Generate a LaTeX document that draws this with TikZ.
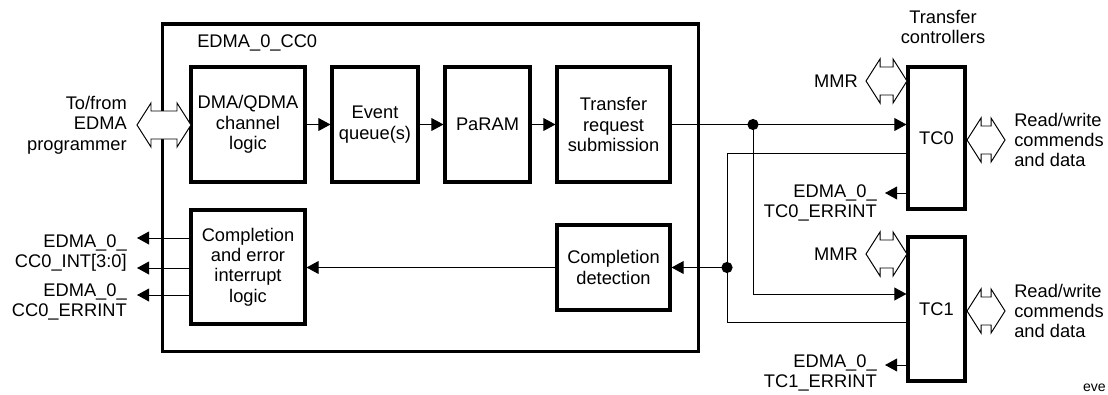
\documentclass[tikz,border=0pt]{standalone}
\usepackage{fontspec}
\setsansfont{Liberation Sans}
\usetikzlibrary{arrows.meta}

% hollow two-headed arrow: left tip x, right tip x, y
\newcommand{\fatarrow}[3]{%
  \draw[fill=white, line width=0.7pt, line join=miter]
    (#1,#3) -- (#1+14,#3-22) -- (#1+14,#3-14) -- (#2-14,#3-14) -- (#2-14,#3-22)
    -- (#2,#3) -- (#2-14,#3+22) -- (#2-14,#3+14) -- (#1+14,#3+14) -- (#1+14,#3+22) -- cycle;}

\begin{document}
\begin{tikzpicture}[x=0.025cm, y=-0.025cm, font=\sffamily\fontsize{13}{14.5}\selectfont,
  blk/.style={draw, line width=2.2pt, align=center, inner sep=0pt},
  lbl/.style={inner sep=0pt},
  conn/.style={line width=0.7pt},
  tip/.style={-{Triangle[length=0.3cm, width=0.32cm]}}]
  % frame of the picture
  \useasboundingbox (0,0) rectangle (1108,394);

  % EDMA_0_CC0 channel controller
  \node[blk, minimum width=13.375cm, minimum height=8.175cm] (cc) at (430.5,187.5) {};
  \node[lbl, anchor=west] (cclbl) at (197,43) {EDMA\_0\_CC0};

  \node[blk, minimum width=2.85cm, minimum height=2.875cm] (dma) at (248,124.5) {DMA/QDMA\\channel\\logic};
  \node[blk, minimum width=2.15cm, minimum height=2.875cm] (evq) at (375,124.5) {Event\\queue(s)};
  \node[blk, minimum width=2.125cm, minimum height=2.875cm] (param) at (487.5,124.5) {PaRAM};
  \node[blk, minimum width=2.825cm, minimum height=2.875cm] (trs) at (613.5,124.5) {Transfer\\request\\submission};
  \node[blk, minimum width=2.85cm, minimum height=2.85cm] (cel) at (248,267) {Completion\\and error\\interrupt\\logic};
  \node[blk, minimum width=2.825cm, minimum height=2.125cm] (cdet) at (613.5,267.5) {Completion\\detection};

  \draw[conn,tip] (dma) -- (evq);
  \draw[conn,tip] (evq) -- (param);
  \draw[conn,tip] (param) -- (trs);
  \draw[conn,tip] (cdet.west) -- (cdet.west -| cel.east);

  % programmer port
  \fatarrow{137}{191}{125}
  \node[lbl, anchor=east, align=right] (prog) at (127,125) {To/from\\EDMA\\programmer};

  % interrupt outputs
  \coordinate (o1) at (137,238);
  \coordinate (o2) at (137,268);
  \coordinate (o3) at (137,295);
  \foreach \o in {o1,o2,o3} \draw[conn,tip] (cel.west |- \o) -- (\o);
  \node[lbl, anchor=east, align=right] (intlbl) at (127,253) {EDMA\_0\_\\CC0\_INT[3:0]};
  \node[lbl, anchor=east, align=right] (errlbl) at (127,302) {EDMA\_0\_\\CC0\_ERRINT};

  % transfer controllers
  \node[lbl, align=center] (tclbl) at (943,27) {Transfer\\controllers};
  \node[blk, minimum width=1.425cm, minimum height=3.55cm] (tc0) at (936.5,138) {TC0};
  \node[blk, minimum width=1.425cm, minimum height=3.6cm] (tc1) at (936.5,309) {TC1};

  \fatarrow{866}{907}{81}
  \node[lbl, anchor=east] (mmr0) at (858,81) {MMR};
  \fatarrow{866}{907}{254}
  \node[lbl, anchor=east] (mmr1) at (858,254) {MMR};
  \fatarrow{967}{1005}{140}
  \node[lbl, anchor=west, align=left] (rw0) at (1014,140) {Read/write\\commends\\and data};
  \fatarrow{967}{1005}{311}
  \node[lbl, anchor=west, align=left] (rw1) at (1014,311) {Read/write\\commends\\and data};

  \coordinate (e0) at (885,193);
  \draw[conn,tip] (tc0.west |- e0) -- (e0);
  \node[lbl, anchor=east, align=right] (err0) at (877,203) {EDMA\_0\_\\TC0\_ERRINT};
  \coordinate (e1) at (885,365);
  \draw[conn,tip] (tc1.west |- e1) -- (e1);
  \node[lbl, anchor=east, align=right] (err1) at (877,373) {EDMA\_0\_\\TC1\_ERRINT};

  % request and completion paths
  \coordinate (j1) at (753,124.5);
  \coordinate (j2) at (727,267.5);
  \draw[conn,tip] (trs.east) -- (trs.east -| tc0.west);
  \draw[conn,tip] (j1) |- ([yshift=0.375cm]tc1.west);
  \draw[conn] ([yshift=-0.375cm]tc0.west) -| (j2) |- ([yshift=-0.325cm]tc1.west);
  \draw[conn,tip] (j2) -- (cdet.east);
  \fill (j1) circle (0.14cm);
  \fill (j2) circle (0.14cm);

  \node[lbl, anchor=base east, font=\sffamily\fontsize{10}{12}\selectfont] (eve) at (1106,391) {eve};
\end{tikzpicture}
\end{document}
